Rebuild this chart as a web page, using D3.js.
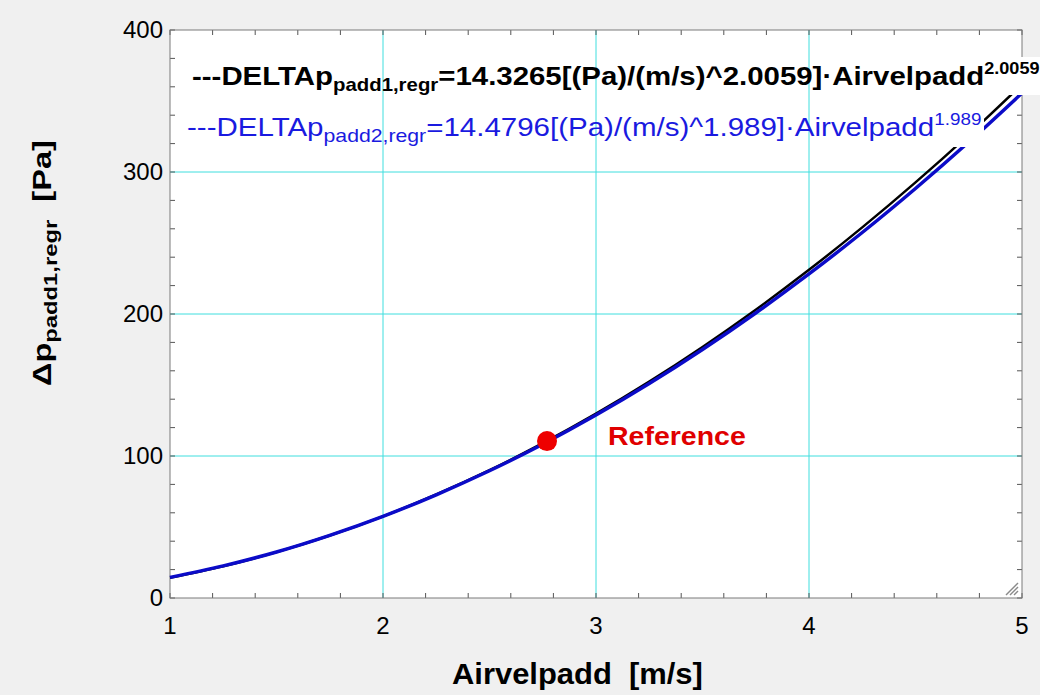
<!DOCTYPE html>
<html>
<head>
<meta charset="utf-8">
<script src="https://cdn.jsdelivr.net/npm/d3@7"></script>
<style>
  body { margin: 0; background: #f0f0f0; }
  svg { display: block; }
</style>
</head>
<body>
<div id="chart"></div>
<script>
"use strict";

// Airvelpadd [m/s] sample positions
var airvel = [1, 1.25, 1.5, 1.75, 2, 2.25, 2.5, 2.75, 3, 3.25, 3.5, 3.75, 4, 4.25, 4.5, 4.75, 5];
// DELTAp padd1 regression [Pa]
var dpPadd1 = [14.3, 22.4, 32.3, 44.0, 57.5, 72.9, 90.0, 109.0, 129.8, 152.4, 176.8, 203.0, 231.1, 261.0, 292.7, 326.2, 361.6];
// DELTAp padd2 regression [Pa]
var dpPadd2 = [14.5, 22.6, 32.4, 44.1, 57.5, 72.7, 89.6, 108.3, 128.8, 151.0, 175.0, 200.7, 228.2, 257.4, 288.4, 321.1, 355.6];
// reference point
var refPoint = [2.77, 110.5];
var refLabel = "Reference";

var xTicks = [1, 2, 3, 4, 5];
var yTicks = [0, 100, 200, 300, 400];

var W = 1040, H = 695;
var plotL = 170, plotR = 1022, plotT = 30, plotB = 598;

var svg = d3.select("#chart").append("svg")
  .attr("width", W)
  .attr("height", H)
  .style("font-family", "'Liberation Sans', Arial, sans-serif");

svg.append("rect")
  .attr("width", W).attr("height", H)
  .style("fill", "#f0f0f0");

var x = d3.scaleLinear().domain([1, 5]).range([plotL, plotR]);
var y = d3.scaleLinear().domain([0, 400]).range([plotB, plotT]);

// squeeze a text element horizontally so it spans the given width
function fitText(t, x0, y0, w) {
  var bw = t.node().getBBox().width;
  t.attr("transform", "translate(" + x0 + "," + y0 + ") scale(" + (w / bw) + ",1)");
}

// Plot area
svg.append("rect")
  .attr("x", plotL).attr("y", plotT)
  .attr("width", plotR - plotL).attr("height", plotB - plotT)
  .style("fill", "white");

// Grid
var grid = svg.append("g");
xTicks.slice(1, -1).forEach(function(v) {
  grid.append("line")
    .attr("x1", x(v)).attr("x2", x(v)).attr("y1", plotT).attr("y2", plotB)
    .style("stroke", "#3fdede").style("stroke-width", 1);
});
yTicks.slice(1, -1).forEach(function(v) {
  grid.append("line")
    .attr("x1", plotL).attr("x2", plotR).attr("y1", y(v)).attr("y2", y(v))
    .style("stroke", "#3fdede").style("stroke-width", 1);
});

// Minor ticks all round, pointing in
var ticks = svg.append("g").style("stroke", "#555").style("stroke-width", 1);
d3.range(1, 5.001, 0.2).forEach(function(v) {
  ticks.append("line").attr("x1", x(v)).attr("x2", x(v)).attr("y1", plotB).attr("y2", plotB - 5);
  ticks.append("line").attr("x1", x(v)).attr("x2", x(v)).attr("y1", plotT).attr("y2", plotT + 5);
});
d3.range(0, 400.001, 20).forEach(function(v) {
  ticks.append("line").attr("x1", plotL).attr("x2", plotL + 5).attr("y1", y(v)).attr("y2", y(v));
  ticks.append("line").attr("x1", plotR).attr("x2", plotR - 5).attr("y1", y(v)).attr("y2", y(v));
});

// Frame
svg.append("rect")
  .attr("x", plotL).attr("y", plotT)
  .attr("width", plotR - plotL).attr("height", plotB - plotT)
  .style("fill", "none").style("stroke", "#7a7a7a").style("stroke-width", 1);

// Resize grip in the corner
[0, 4, 8].forEach(function(o) {
  svg.append("line")
    .attr("x1", plotR - 16 + o).attr("y1", plotB - 3)
    .attr("x2", plotR - 4).attr("y2", plotB - 15 + o)
    .style("stroke", "#8a8a8a").style("stroke-width", 1.5);
});

// Curves
var line = d3.line()
  .x(function(d) { return x(d[0]); })
  .y(function(d) { return y(d[1]); })
  .curve(d3.curveCatmullRom);

svg.append("path")
  .datum(d3.zip(airvel, dpPadd1))
  .attr("d", line)
  .style("fill", "none").style("stroke", "#000").style("stroke-width", 2.5);

svg.append("path")
  .datum(d3.zip(airvel, dpPadd2))
  .attr("d", line)
  .style("fill", "none").style("stroke", "#0b0bc8").style("stroke-width", 3.5);

// Legend boxes hide the curves
svg.append("rect").attr("x", 184).attr("y", 57).attr("width", 856).attr("height", 38).style("fill", "white");
svg.append("rect").attr("x", 180).attr("y", 95).attr("width", 804).attr("height", 52).style("fill", "white");

// grid shows through legend
xTicks.slice(1, -1).forEach(function(v) {
  svg.append("line")
    .attr("x1", x(v)).attr("x2", x(v)).attr("y1", 57).attr("y2", 147)
    .style("stroke", "#3fdede").style("stroke-width", 1);
});

// Legend text
var l1 = svg.append("text").style("font-size", "26px").style("font-weight", "bold").style("fill", "#000");
l1.append("tspan").text("---DELTAp");
l1.append("tspan").attr("dy", 6).style("font-size", "18px").text("padd1,regr");
l1.append("tspan").attr("dy", -6).text("=14.3265[(Pa)/(m/s)^2.0059]\u00b7Airvelpadd");
l1.append("tspan").attr("dy", -11).style("font-size", "16px").text("2.0059");
fitText(l1, 192, 85, 848);

var l2 = svg.append("text").style("font-size", "25px").style("fill", "#1a1ae0");
l2.append("tspan").text("---DELTAp");
l2.append("tspan").attr("dy", 6).style("font-size", "18px").text("padd2,regr");
l2.append("tspan").attr("dy", -6).text("=14.4796[(Pa)/(m/s)^1.989]\u00b7Airvelpadd");
l2.append("tspan").attr("dy", -11).style("font-size", "16px").text("1.989");
fitText(l2, 187, 136, 795);

// Reference point
svg.append("circle")
  .attr("cx", x(refPoint[0])).attr("cy", y(refPoint[1]))
  .attr("r", 10)
  .style("fill", "#ee0000");

var rt = svg.append("text")
  .style("font-size", "25px").style("font-weight", "bold").style("fill", "#e00000")
  .text(refLabel);
fitText(rt, 608, 445, 138);

// Tick labels
xTicks.forEach(function(v) {
  svg.append("text")
    .attr("x", x(v)).attr("y", 634)
    .attr("text-anchor", "middle")
    .style("font-size", "24px").style("fill", "#000")
    .text(v);
});
yTicks.forEach(function(v) {
  svg.append("text")
    .attr("x", 163).attr("y", y(v) + 8)
    .attr("text-anchor", "end")
    .style("font-size", "24px").style("fill", "#000")
    .text(v);
});

// Axis titles
var xl = svg.append("text")
  .attr("xml:space", "preserve")
  .style("font-size", "29px").style("font-weight", "bold").style("fill", "#000")
  .text("Airvelpadd  [m/s]");
fitText(xl, 452, 684, 251);

var yl = svg.append("text")
  .attr("xml:space", "preserve")
  .style("font-size", "26px").style("font-weight", "bold").style("fill", "#000");
yl.append("tspan").text("\u0394p");
yl.append("tspan").attr("dy", 6).style("font-size", "19px").text("padd1,regr");
yl.append("tspan").attr("dy", -6).text("  [Pa]");
var yw = yl.node().getBBox().width;
yl.attr("transform", "translate(51,386) rotate(-90) scale(" + (246 / yw) + ",1)");
</script>
</body>
</html>
